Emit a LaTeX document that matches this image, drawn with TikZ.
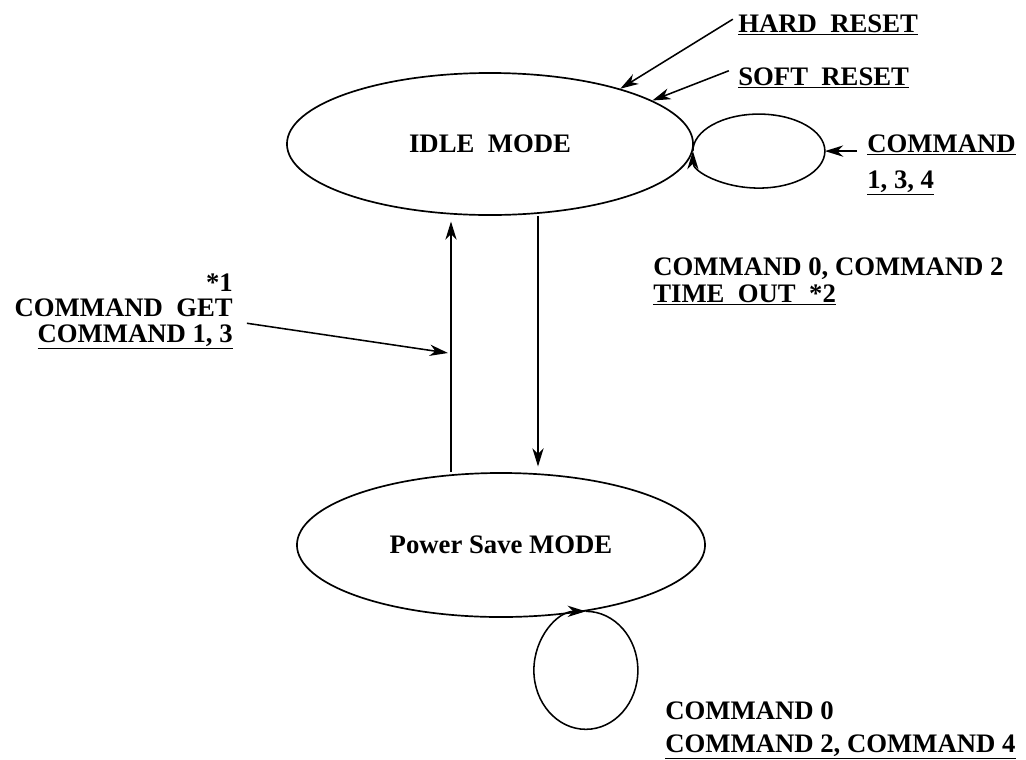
\documentclass[tikz,border=0pt]{standalone}
\usepackage{fontspec}
\setmainfont{Liberation Serif}
\usetikzlibrary{arrows.meta,calc,shapes.geometric}
\newcommand{\lblfont}{\bfseries\fontsize{19pt}{16pt}\selectfont}

\begin{document}
\begin{tikzpicture}[x=0.025cm, y=-0.025cm,
    mode/.style={draw, ellipse, line width=1.2pt, inner sep=0pt, font=\lblfont},
    lbl/.style={inner sep=0pt, font=\lblfont, align=left},
    trans/.style={line width=1.1pt, -{Stealth[length=13pt,width=8pt,inset=4pt]}}]
  \useasboundingbox (0,0) rectangle (1026,759);
  % the two modes
  \node[mode, minimum width=10.15cm, minimum height=3.55cm] (idle) at (490,144) {IDLE\enspace MODE};
  \node[mode, minimum width=10.2cm, minimum height=3.6cm] (psave) at (501,545) {Power Save MODE};
  % labels (base = last line)
  \node[lbl, anchor=base west] (hard) at (738,32) {\underline{HARD\enspace RESET}};
  \node[lbl, anchor=base west] (soft) at (738,85) {\underline{SOFT\enspace RESET}};
  \node[lbl, anchor=base west] (cmd) at (867,188) {\underline{COMMAND}\\[9.6pt]\underline{1, 3, 4}};
  \node[lbl, anchor=base west] (tout) at (653,302) {COMMAND 0, COMMAND 2\\[3pt]\underline{TIME\enspace OUT\enspace *2}};
  \node[lbl, anchor=base east, align=right] (cmdget) at (233,342) {*1\\[1.8pt]COMMAND\enspace GET\\[1.8pt]\underline{COMMAND 1, 3}};
  \node[lbl, anchor=base west] (psloop) at (665,752) {COMMAND 0\\[6.8pt]\underline{COMMAND 2, COMMAND 4}};
  \coordinate (upx) at (451,0);
  \coordinate (dnx) at (538,0);
  \coordinate (getin) at (448,353);
  \coordinate (cmdloopE) at ($(idle.-2)+(132,0)$);
  % resets
  \draw[trans, shorten <=7pt] (hard.173) -- (idle.23);
  \draw[trans, shorten <=7pt] (soft.173) -- (idle.15);
  % loop on idle
  \draw[trans] (idle.-2) arc[start angle=-180, end angle=180, x radius=66, y radius=37];
  \draw[trans, shorten <=7pt] (cmd.west |- cmdloopE) -- (cmdloopE);
  % between the modes
  \draw[trans, shorten >=4pt] (psave.north -| upx) -- (idle.south -| upx);
  \draw[trans, shorten >=4pt] (idle.south -| dnx) -- (psave.north -| dnx);
  \draw[trans, shorten <=10pt] (cmdget.-5) -- (getin);
  % loop on power save
  \draw[trans] (psave.-38) arc[start angle=-450, end angle=-90, x radius=52, y radius=59];
\end{tikzpicture}
\end{document}
